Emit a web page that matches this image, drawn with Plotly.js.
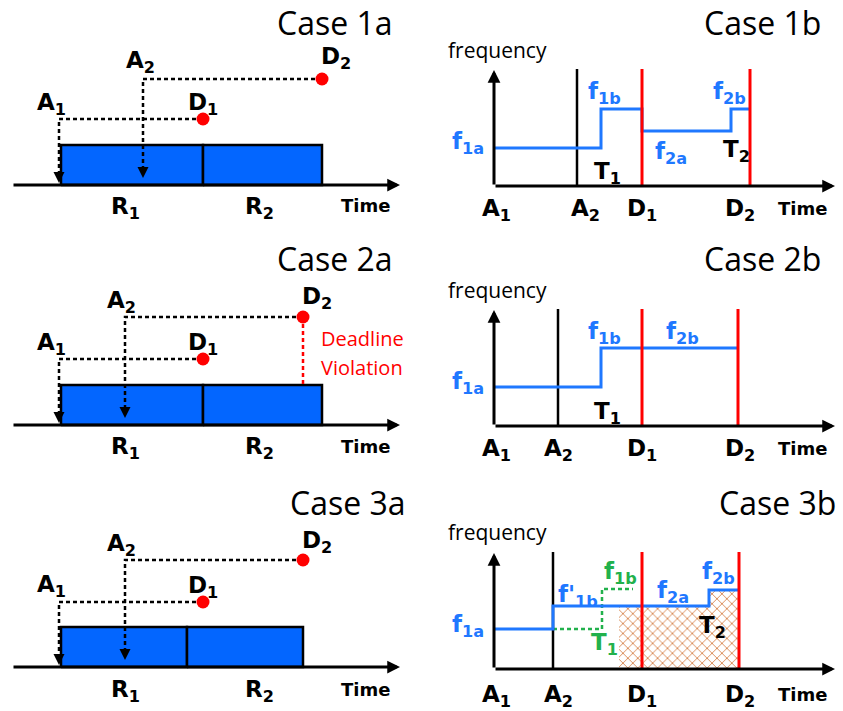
<!DOCTYPE html>
<html><head><meta charset="utf-8">
<script src="https://cdn.plot.ly/plotly-3.0.1.min.js"></script>
<style>html,body{margin:0;padding:0;background:#fff}#chart{width:843px;height:711px}</style>
</head><body><div id="chart"></div>
<script>
// ---------------- data (time units / frequency units) ----------------
// Case 1a : arrivals A1,A2 ; deadlines D1,D2 ; request levels ; run segments R1,R2
const c1aArrival  = [0, 8.4];
const c1aDeadline = [14.4, 26.3];
const c1aLevel    = [6.6, 10.6];
const c1aRunStart = [0.2, 14.4];
const c1aRunEnd   = [14.4, 26.3];
// Case 2a
const c2aArrival  = [0, 6.6];
const c2aDeadline = [14.4, 24.4];
const c2aLevel    = [6.6, 10.8];
const c2aRunStart = [0.2, 14.4];
const c2aRunEnd   = [14.4, 26.3];
// Case 3a
const c3aArrival  = [0, 6.6];
const c3aDeadline = [14.4, 24.4];
const c3aLevel    = [6.5, 10.7];
const c3aRunStart = [0.2, 12.8];
const c3aRunEnd   = [12.8, 24.4];
const runHeight   = 4.0;
const arrowTip    = [0.2, 0.7];

// Case 1b : A1, A2, D1, D2 markers ; frequency step profile
const c1bMarks    = [0, 8.3, 14.8, 25.6];
const c1bStepTime = [0, 10.7, 14.8, 23.7, 25.6];
const c1bStepFreq = [3.8, 7.7, 5.5, 7.7, 7.7];
// Case 2b
const c2bMarks    = [0, 6.4, 14.8, 24.4];
const c2bStepTime = [0, 10.7, 24.4];
const c2bStepFreq = [3.9, 7.8, 7.8];
// Case 3b
const c3bMarks    = [0, 5.9, 14.8, 24.5];
const c3bStepTime = [0, 5.9, 21.5, 24.5];
const c3bStepFreq = [4.0, 6.3, 7.9, 7.9];
const c3bAltTime  = [5.9, 10.8, 13.9];
const c3bAltFreq  = [4.0, 8.0, 8.0];
const c3bExtraTime = [12.5, 21.5, 24.5];
const c3bExtraFreq = [6.3, 7.9, 7.9];
const markTop = 11.7;
const freqAxisTop = 11.6;
const timeAxisEnd = 34.1;
const timeAxisStartA = -4.7;

const markLabels = ['A<sub>1</sub>', 'A<sub>2</sub>', 'D<sub>1</sub>', 'D<sub>2</sub>'];
const titles = ['Case 1a', 'Case 1b', 'Case 2a', 'Case 2b', 'Case 3a', 'Case 3b'];

// ---------------- layout helpers ----------------
const W = 843, H = 711, S = 10;
const BOLD = '"DejaVu Sans", sans-serif';
const REG = '"Open Sans", sans-serif';
const BLUE = '#1f78ff', BOX = '#0366ff', RED = '#ff0000', GREEN = '#22b14c';
const LBL = 23;
const panels = [
  {px:[0,420],   py:[0,240],   o:[59,185]},
  {px:[420,843], py:[0,240],   o:[494,186]},
  {px:[0,420],   py:[240,480], o:[59,425]},
  {px:[420,843], py:[240,480], o:[494,426]},
  {px:[0,420],   py:[480,711], o:[59,667]},
  {px:[420,843], py:[480,711], o:[494,669]}
];
const layout = {
  width: W, height: H, margin: {l:0, r:0, t:0, b:0},
  paper_bgcolor: '#fff', plot_bgcolor: 'rgba(0,0,0,0)',
  showlegend: false, annotations: [], font: {family: REG}
};
panels.forEach((p, i) => {
  const n = i === 0 ? '' : (i + 1);
  layout['xaxis' + n] = {domain:[p.px[0]/W, p.px[1]/W], range:[(p.px[0]-p.o[0])/S, (p.px[1]-p.o[0])/S],
    visible:false, fixedrange:true, anchor:'y' + n};
  layout['yaxis' + n] = {domain:[1-p.py[1]/H, 1-p.py[0]/H], range:[(p.o[1]-p.py[1])/S, (p.o[1]-p.py[0])/S],
    visible:false, fixedrange:true, anchor:'x' + n};
});
const ax = i => (i === 0 ? 'x' : 'x' + (i + 1));
const ay = i => (i === 0 ? 'y' : 'y' + (i + 1));

const traces = [];
function arrow(i, x0, y0, x1, y1, w, size) {
  layout.annotations.push({xref:ax(i), yref:ay(i), axref:ax(i), ayref:ay(i),
    x:x1, y:y1, ax:x0, ay:y0, text:'', showarrow:true, arrowhead:2,
    arrowsize:size, arrowwidth:w, arrowcolor:'#000', standoff:0, startstandoff:0});
}
function label(text, px, py, opt) {
  opt = opt || {};
  layout.annotations.push({xref:'paper', yref:'paper', x:px/W, y:1-py/H,
    xanchor:opt.xanchor || 'center', yanchor:'middle', showarrow:false, text:text,
    font:{family:opt.family || BOLD, size:opt.size || LBL, color:opt.color || '#000',
          weight:opt.weight === undefined ? 700 : opt.weight}});
}

// ---------------- schedule panels (a) ----------------
function schedulePanel(i, arrival, deadline, level, runStart, runEnd, violation) {
  const xa = ax(i), ya = ay(i);
  for (let k = 0; k < runStart.length; k++) {
    traces.push({type:'scatter', mode:'lines', xaxis:xa, yaxis:ya, hoverinfo:'skip',
      x:[runStart[k], runEnd[k], runEnd[k], runStart[k], runStart[k]],
      y:[0, 0, runHeight, runHeight, 0], fill:'toself', fillcolor:BOX,
      line:{color:'#000', width:2.5}});
  }
  for (let k = 0; k < arrival.length; k++) {
    traces.push({type:'scatter', mode:'lines', xaxis:xa, yaxis:ya, hoverinfo:'skip',
      x:[deadline[k], arrival[k], arrival[k]], y:[level[k], level[k], arrowTip[k] + 1.0],
      line:{color:'#000', width:2.5, dash:'4px,3px'}});
    arrow(i, arrival[k], arrowTip[k] + 1.2, arrival[k], arrowTip[k], 2, 1.1);
  }
  if (violation) {
    traces.push({type:'scatter', mode:'lines', xaxis:xa, yaxis:ya, hoverinfo:'skip',
      x:[deadline[1], deadline[1]], y:[level[1], runHeight],
      line:{color:RED, width:2.5, dash:'4px,3px'}});
  }
  traces.push({type:'scatter', mode:'markers', xaxis:xa, yaxis:ya, hoverinfo:'skip',
    x:deadline, y:level, marker:{color:RED, size:13}});
  arrow(i, timeAxisStartA, 0, timeAxisEnd, 0, 3, 0.85);
}
schedulePanel(0, c1aArrival, c1aDeadline, c1aLevel, c1aRunStart, c1aRunEnd, false);
schedulePanel(2, c2aArrival, c2aDeadline, c2aLevel, c2aRunStart, c2aRunEnd, true);
schedulePanel(4, c3aArrival, c3aDeadline, c3aLevel, c3aRunStart, c3aRunEnd, false);

// ---------------- frequency panels (b) ----------------
function freqPanel(i, marks, stepT, stepF, extra) {
  const xa = ax(i), ya = ay(i);
  if (extra) extra(xa, ya);
  traces.push({type:'scatter', mode:'lines', xaxis:xa, yaxis:ya, hoverinfo:'skip',
    x:[marks[1], marks[1]], y:[0, markTop], line:{color:'#000', width:2.5}});
  traces.push({type:'scatter', mode:'lines', xaxis:xa, yaxis:ya, hoverinfo:'skip',
    x:stepT, y:stepF, line:{color:BLUE, width:3, shape:'hv'}});
  traces.push({type:'scatter', mode:'lines', xaxis:xa, yaxis:ya, hoverinfo:'skip',
    x:[marks[2], marks[2], null, marks[3], marks[3]], y:[0, markTop, null, 0, markTop],
    line:{color:RED, width:3}});
  arrow(i, marks[0], 0, timeAxisEnd, 0, 3, 0.85);
  arrow(i, marks[0], 0, marks[0], freqAxisTop, 3, 0.85);
}
freqPanel(1, c1bMarks, c1bStepTime, c1bStepFreq);
freqPanel(3, c2bMarks, c2bStepTime, c2bStepFreq);
freqPanel(5, c3bMarks, c3bStepTime, c3bStepFreq, (xa, ya) => {
  traces.push({type:'scatter', mode:'lines', xaxis:xa, yaxis:ya, hoverinfo:'skip',
    x:c3bExtraTime, y:c3bExtraFreq, fill:'tozeroy', line:{width:0, shape:'hv'},
    fillcolor:'rgba(0,0,0,0)',
    fillpattern:{shape:'x', fgcolor:'#d98a55', bgcolor:'rgba(255,255,255,0)', size:7, solidity:0.25}});
  traces.push({type:'scatter', mode:'lines', xaxis:xa, yaxis:ya, hoverinfo:'skip',
    x:c3bAltTime, y:c3bAltFreq, line:{color:GREEN, width:2.5, shape:'hv', dash:'4px,3px'}});
});

// ---------------- texts ----------------
const titlePos = [[395,22],[823,22],[395,258],[823,258],[408,503],[838,503]];
titles.forEach((t, i) => label(t, titlePos[i][0], titlePos[i][1], {size:32, weight:400, family:REG, xanchor:'right'}));

// schedule labels
[0, 1, 2].forEach(r => {
  const lab = [
    [[51,104],[140,62],[203,104],[336,58]],
    [[51,344],[121,302],[203,344],[317,298]],
    [[51,586],[121,545],[203,587],[317,542]]][r];
  markLabels.forEach((t, k) => label(t, lab[k][0], lab[k][1]));
  const ry = [208,448,691][r];
  label('R<sub>1</sub>', 126, ry);
  label('R<sub>2</sub>', 259, ry);
  label('Time', 365, ry - 2, {size:18});
});
label('Deadline', 362, 338, {size:20, weight:400, family:REG, color:RED});
label('Violation', 362, 367, {size:20, weight:400, family:REG, color:RED});

// frequency panel labels
[[496,585,642,740], [496,558,642,740], [496,558,642,740]].forEach((xs, r) => {
  const ty = [210, 450, 696][r];
  markLabels.forEach((t, k) => label(t, xs[k], ty));
  label('Time', 802, ty - 2, {size:18});
  label('frequency', 497, [50, 290, 532][r], {size:21, weight:400, family:REG});
});
// 1b
label('f<sub>1a</sub>', 468, 143, {color:BLUE});
label('f<sub>1b</sub>', 604, 93, {color:BLUE});
label('f<sub>2a</sub>', 671, 153, {color:BLUE});
label('f<sub>2b</sub>', 729, 93, {color:BLUE});
label('T<sub>1</sub>', 607, 173);
label('T<sub>2</sub>', 736, 151);
// 2b
label('f<sub>1a</sub>', 468, 383, {color:BLUE});
label('f<sub>1b</sub>', 604, 333, {color:BLUE});
label('f<sub>2b</sub>', 682, 333, {color:BLUE});
label('T<sub>1</sub>', 607, 413);
// 3b
label('f<sub>1a</sub>', 468, 626, {color:BLUE});
label("f'<sub>1b</sub>", 578, 596, {color:BLUE});
label('f<sub>1b</sub>', 620, 573, {color:GREEN});
label('f<sub>2a</sub>', 673, 592, {color:BLUE});
label('f<sub>2b</sub>', 718, 573, {color:BLUE});
label('T<sub>2</sub>', 712, 627);
label('T<sub>1</sub>', 604, 644, {color:GREEN});

Plotly.newPlot('chart', traces, layout, {staticPlot:true, displayModeBar:false});
</script></body></html>
